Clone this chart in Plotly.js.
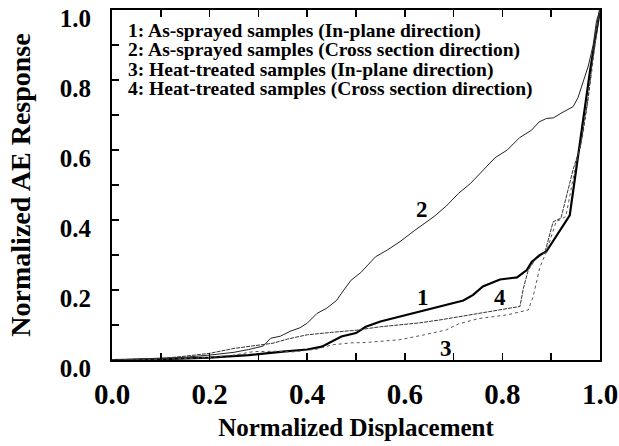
<!DOCTYPE html>
<html>
<head>
<meta charset="utf-8">
<script src="https://cdn.plot.ly/plotly-3.0.1.min.js"></script>
<style>html,body{margin:0;padding:0;background:#fff;}#plot{width:619px;height:446px;}</style>
</head>
<body>
<div id="plot"></div>
<script>
// Curve 1: As-sprayed, in-plane (thick solid)
const x1 = [0, 0.1, 0.2, 0.28, 0.35, 0.40, 0.43, 0.45, 0.47, 0.50, 0.52, 0.55, 0.59, 0.63, 0.67, 0.72, 0.74, 0.76, 0.795, 0.83, 0.85, 0.86, 0.877, 0.89, 0.938, 0.96, 0.98, 1.0];
const y1 = [0, 0.002, 0.007, 0.014, 0.024, 0.03, 0.038, 0.052, 0.067, 0.077, 0.095, 0.11, 0.124, 0.138, 0.151, 0.17, 0.186, 0.21, 0.23, 0.236, 0.257, 0.28, 0.3, 0.31, 0.413, 0.632, 0.83, 1.0];
// Curve 2: As-sprayed, cross section (thin solid)
const x2 = [0, 0.05, 0.1, 0.15, 0.2, 0.25, 0.28, 0.31, 0.325, 0.345, 0.365, 0.385, 0.40, 0.42, 0.44, 0.46, 0.475, 0.49, 0.51, 0.54, 0.565, 0.59, 0.62, 0.66, 0.685, 0.71, 0.735, 0.76, 0.785, 0.81, 0.835, 0.86, 0.875, 0.89, 0.905, 0.92, 0.945, 0.955, 0.966, 0.976, 0.986, 0.993, 1.0];
const y2 = [0, 0.002, 0.004, 0.008, 0.014, 0.022, 0.03, 0.04, 0.062, 0.068, 0.082, 0.092, 0.105, 0.133, 0.148, 0.17, 0.2, 0.228, 0.25, 0.295, 0.315, 0.338, 0.37, 0.41, 0.44, 0.476, 0.505, 0.542, 0.578, 0.60, 0.635, 0.657, 0.68, 0.69, 0.692, 0.705, 0.724, 0.75, 0.795, 0.84, 0.90, 0.97, 1.0];
// Curve 3: Heat-treated, in-plane (dotted)
const x3 = [0, 0.1, 0.2, 0.25, 0.29, 0.34, 0.37, 0.42, 0.45, 0.49, 0.52, 0.59, 0.64, 0.685, 0.71, 0.75, 0.81, 0.853, 0.863, 0.870, 0.877, 0.889, 0.91, 0.93, 0.95, 0.965, 0.98, 0.995, 1.0];
const y3 = [0, 0.002, 0.007, 0.014, 0.024, 0.025, 0.023, 0.031, 0.043, 0.049, 0.05, 0.058, 0.072, 0.086, 0.103, 0.118, 0.129, 0.143, 0.181, 0.228, 0.266, 0.305, 0.395, 0.41, 0.555, 0.645, 0.79, 0.96, 1.0];
// Curve 4: Heat-treated, cross section (dashed)
const x4 = [0, 0.1, 0.15, 0.2, 0.25, 0.3, 0.33, 0.36, 0.40, 0.45, 0.5, 0.55, 0.59, 0.63, 0.67, 0.71, 0.75, 0.8, 0.836, 0.843, 0.853, 0.867, 0.887, 0.904, 0.92, 0.945, 0.96, 0.975, 0.99, 1.0];
const y4 = [0, 0.004, 0.011, 0.019, 0.033, 0.043, 0.048, 0.06, 0.072, 0.079, 0.085, 0.095, 0.1, 0.106, 0.114, 0.123, 0.133, 0.144, 0.153, 0.205, 0.257, 0.286, 0.307, 0.395, 0.405, 0.545, 0.61, 0.74, 0.92, 1.0];

const legendLines = [
  "1: As-sprayed samples (In-plane direction)",
  "2: As-sprayed samples (Cross section direction)",
  "3: Heat-treated samples (In-plane direction)",
  "4: Heat-treated samples (Cross section direction)"
];
const curveLabels = ["1", "2", "3", "4"];
const labelX = [0.637, 0.635, 0.684, 0.795];
const labelY = [0.18, 0.429, 0.034, 0.18];

const tickVals = [0, 0.1, 0.2, 0.3, 0.4, 0.5, 0.6, 0.7, 0.8, 0.9, 1.0];
const tickText = ["0.0", "", "0.2", "", "0.4", "", "0.6", "", "0.8", "", "1.0"];

const serif = "Liberation Serif";

const traces = [
  {x: x1, y: y1, mode: "lines", line: {color: "#000", width: 2.2}},
  {x: x2, y: y2, mode: "lines", line: {color: "#222", width: 1}},
  {x: x3, y: y3, mode: "lines", line: {color: "#555", width: 1, dash: "dot"}},
  {x: x4, y: y4, mode: "lines", line: {color: "#333", width: 1, dash: "4px,1px"}}
];

const annotations = [];
const legendTop = [30.5, 50, 69.5, 89];
legendLines.forEach((t, i) => {
  annotations.push({
    text: "<b>" + t + "</b>", xref: "paper", yref: "paper",
    x: (126 - 112) / 488, y: 1 - (legendTop[i] - 10) / 350,
    xanchor: "left", yanchor: "middle", showarrow: false,
    font: {family: serif, size: 19.5, color: "#000"}
  });
});
curveLabels.forEach((t, i) => {
  annotations.push({
    text: "<b>" + t + "</b>", x: labelX[i], y: labelY[i],
    xanchor: "center", yanchor: "middle", showarrow: false,
    font: {family: serif, size: 23, color: "#000"}
  });
});

const layout = {
  width: 619, height: 446,
  margin: {l: 112, r: 19, t: 10, b: 86},
  paper_bgcolor: "#fff", plot_bgcolor: "#fff",
  showlegend: false,
  xaxis: {
    range: [0, 1], tickvals: tickVals, ticktext: tickText,
    ticks: "inside", ticklen: 7, tickwidth: 1.5, tickcolor: "#000",
    showline: true, linewidth: 2, linecolor: "#000", mirror: "allticks",
    showgrid: false, zeroline: false,
    tickfont: {family: serif, size: 29, color: "#000", weight: "bold"},
    ticklabelstandoff: 7,
    title: {text: "<b>Normalized Displacement</b>", font: {family: serif, size: 25, color: "#000"}, standoff: 10}
  },
  yaxis: {
    range: [0, 1], tickvals: tickVals, ticktext: tickText,
    ticks: "inside", ticklen: 7, tickwidth: 1.5, tickcolor: "#000",
    showline: true, linewidth: 2, linecolor: "#000", mirror: true,
    showgrid: false, zeroline: false,
    tickfont: {family: serif, size: 25, color: "#000", weight: "bold"},
    ticklabelstandoff: 14, ticklabelshift: 8,
    title: {text: "<b>Normalized AE Response</b>", font: {family: serif, size: 28, color: "#000"}, standoff: 21}
  },
  annotations: annotations
};

Plotly.newPlot("plot", traces, layout, {staticPlot: true, displayModeBar: false});
</script>
</body>
</html>
